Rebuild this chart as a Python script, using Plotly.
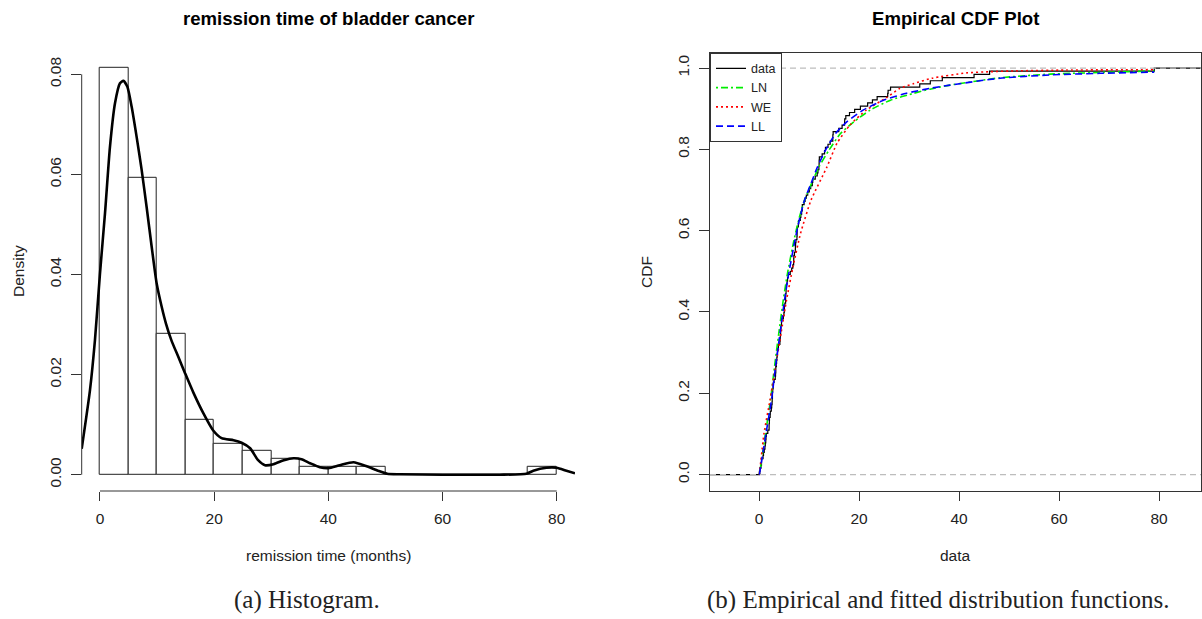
import plotly.graph_objects as go

W, H = 1202, 619

# ---------------- data: left panel (histogram + density) ----------------
bin_left = [0, 5, 10, 15, 20, 25, 30, 35, 40, 45, 50, 55, 60, 65, 70, 75]
bin_density = [0.08125, 0.059375, 0.028125, 0.0109375, 0.00625, 0.0046875,
               0.003125, 0.0015625, 0.0015625, 0.0015625, 0, 0, 0, 0, 0, 0.0015625]
bin_width = 5

dens_x = [-3.2, -1.75, -0.88, 0.0, 0.88, 1.75, 2.63, 3.5, 4.1, 4.8, 5.55, 6.42, 7.3,
          8.17, 9.05, 9.93, 10.8, 11.56, 12.5, 13.7, 14.9, 16.4, 18.1, 19.8, 21.3,
          23.4, 24.8, 26.3, 27.7, 28.9, 30.4, 32.2, 33.9, 35.3, 36.8, 38.5, 40.0,
          42.0, 44.4, 46.7, 48.7, 50.3, 52.5, 60.0, 70.0, 74.7, 75.9, 78.2, 80.0,
          81.7, 83.2]
dens_y = [0.0052, 0.0169, 0.0269, 0.0402, 0.0522, 0.0655, 0.0742, 0.0782, 0.0787,
          0.0775, 0.0735, 0.0675, 0.0609, 0.0535, 0.0456, 0.0382, 0.0336, 0.0302,
          0.0269, 0.0236, 0.0203, 0.0163, 0.0123, 0.0089, 0.0073, 0.0069, 0.0064,
          0.0053, 0.0029, 0.0019, 0.0021, 0.0029, 0.0033, 0.0031, 0.0023, 0.0015,
          0.0013, 0.0019, 0.0025, 0.0017, 0.0008, 0.0002, 0.0001, 0.0, 0.0, 0.0002,
          0.0008, 0.0014, 0.0014, 0.0008, 0.0003]

# ---------------- data: right panel (ECDF + fitted CDFs) ----------------
remission = [0.08, 2.09, 3.48, 4.87, 6.94, 8.66, 13.11, 23.63, 0.20, 2.23, 3.52, 4.98,
             6.97, 9.02, 13.29, 0.40, 2.26, 3.57, 5.06, 7.09, 9.22, 13.80, 25.74, 0.50,
             2.46, 3.64, 5.09, 7.26, 9.47, 14.24, 25.82, 0.51, 2.54, 3.70, 5.17, 7.28,
             9.74, 14.76, 26.31, 0.81, 2.62, 3.82, 5.32, 7.32, 10.06, 14.77, 32.15, 2.64,
             3.88, 5.32, 7.39, 10.34, 14.83, 34.26, 0.90, 2.69, 4.18, 5.34, 7.59, 10.66,
             15.96, 36.66, 1.05, 2.69, 4.23, 5.41, 7.62, 10.75, 16.62, 43.01, 1.19, 2.75,
             4.26, 5.41, 7.63, 17.12, 46.12, 1.26, 2.83, 4.33, 5.49, 7.66, 11.25, 17.14,
             79.05, 1.35, 2.87, 5.62, 7.87, 11.64, 17.36, 1.40, 3.02, 4.34, 5.71, 7.93,
             11.79, 18.10, 1.46, 4.40, 5.85, 8.26, 11.98, 19.13, 1.76, 3.25, 4.50, 6.25,
             8.37, 12.02, 2.02, 3.31, 4.51, 6.54, 8.53, 12.03, 20.28, 2.02, 3.36, 6.76,
             12.07, 21.73, 2.07, 3.36, 6.93, 8.65, 12.63, 22.69]

ln_x = [0.08, 1.3, 2.3, 3.1, 3.95, 4.85, 5.7, 7.0, 8.1, 9.1, 10.5, 12.0, 14.0, 16.3,
        19.0, 22.3, 26.3, 31.0, 34.2, 38.2, 48.2, 58.2, 68.2, 79.05]
ln_y = [0.0, 0.101, 0.183, 0.265, 0.347, 0.429, 0.495, 0.577, 0.634, 0.675, 0.716,
        0.757, 0.798, 0.839, 0.868, 0.897, 0.921, 0.938, 0.948, 0.958, 0.976, 0.985,
        0.989, 0.993]

we_x = [0.08, 1.0, 2.2, 3.3, 4.4, 5.5, 6.8, 8.3, 10.4, 13.6, 15.6, 18.2, 21.5, 25.5,
        28.2, 31.0, 34.6, 41.5, 46.2, 51.5, 61.5, 79.05]
we_y = [0.0, 0.101, 0.183, 0.265, 0.347, 0.429, 0.511, 0.593, 0.675, 0.757, 0.815,
        0.860, 0.897, 0.927, 0.950, 0.962, 0.975, 0.988, 0.991, 0.993, 0.995, 0.996]

ll_x = [0.08, 1.4, 2.5, 3.3, 4.2, 5.1, 5.95, 7.2, 8.2, 9.1, 10.4, 11.7, 13.3, 15.3,
        17.6, 20.9, 24.9, 29.5, 34.2, 38.2, 48.2, 58.2, 68.2, 79.05]
ll_y = [0.0, 0.101, 0.183, 0.265, 0.347, 0.429, 0.495, 0.577, 0.634, 0.675, 0.716,
        0.757, 0.798, 0.839, 0.868, 0.897, 0.921, 0.938, 0.950, 0.958, 0.975, 0.983,
        0.987, 0.990]

x1_ticks = [0, 20, 40, 60, 80]
y1_ticks = [0.00, 0.02, 0.04, 0.06, 0.08]
x2_ticks = [0, 20, 40, 60, 80]
y2_ticks = [0.0, 0.2, 0.4, 0.6, 0.8, 1.0]

X1_RANGE = [-3.2, 83.2]
Y1_RANGE = [-0.00325, 0.0845]
X2_RANGE = [-9.8, 88.4]
Y2_RANGE = [-0.0404, 1.0377]

# ---------------- styles ----------------
SANS = "Liberation Sans, Arial, sans-serif"
SERIF = "Liberation Serif, Times New Roman, serif"
AX = "#333333"
TXT = "#222222"

fig = go.Figure()

# histogram bars
fig.add_trace(go.Bar(
    x=[b + bin_width / 2 for b in bin_left], y=bin_density, width=bin_width,
    marker=dict(color="white", line=dict(color="#222222", width=1)),
    xaxis="x", yaxis="y", showlegend=False, hoverinfo="skip"))

# density curve
fig.add_trace(go.Scatter(
    x=dens_x, y=dens_y, mode="lines",
    line=dict(color="black", width=2.6, shape="spline", smoothing=0.6),
    xaxis="x", yaxis="y", showlegend=False, hoverinfo="skip", cliponaxis=True))

# ECDF step line (extends to the plot limits, as R's plot.ecdf does)
srt = sorted(remission)
n = len(srt)
ecdf_x = [X2_RANGE[0]] + srt + [X2_RANGE[1]]
ecdf_y = [0.0] + [(i + 1) / n for i in range(n)] + [1.0]
fig.add_trace(go.Scatter(
    x=ecdf_x, y=ecdf_y, mode="lines", name="data",
    line=dict(color="black", width=1.2, shape="hv"),
    xaxis="x2", yaxis="y2", hoverinfo="skip"))

fig.add_trace(go.Scatter(
    x=ln_x, y=ln_y, mode="lines", name="LN",
    line=dict(color="#00ee00", width=1.6, dash="2px,3px,7px,3px", shape="spline", smoothing=0.5),
    xaxis="x2", yaxis="y2", hoverinfo="skip"))
fig.add_trace(go.Scatter(
    x=we_x, y=we_y, mode="lines", name="WE",
    line=dict(color="#ff0000", width=1.6, dash="2px,3px", shape="spline", smoothing=0.5),
    xaxis="x2", yaxis="y2", hoverinfo="skip"))
fig.add_trace(go.Scatter(
    x=ll_x, y=ll_y, mode="lines", name="LL",
    line=dict(color="#0000ff", width=1.6, dash="7px,4px", shape="spline", smoothing=0.5),
    xaxis="x2", yaxis="y2", hoverinfo="skip"))

tickfont = dict(family=SANS, size=15.5, color=TXT)

fig.update_layout(
    width=W, height=H, margin=dict(l=0, r=0, t=0, b=0),
    paper_bgcolor="white", plot_bgcolor="white",
    bargap=0,
    xaxis=dict(domain=[81.7 / W, 575 / W], range=X1_RANGE, anchor="y",
               tickvals=x1_ticks, ticktext=[str(v) for v in x1_ticks],
               ticks="outside", ticklen=9, tickcolor=AX, tickwidth=1,
               showline=False, showgrid=False, zeroline=False, tickfont=tickfont,
               ticklabelstandoff=4),
    yaxis=dict(domain=[1 - 491 / H, 1 - 51.8 / H], range=Y1_RANGE, anchor="x",
               tickvals=y1_ticks, ticktext=["%.2f" % v for v in y1_ticks],
               ticks="outside", ticklen=10, tickcolor=AX, tickwidth=1, tickangle=-90,
               showline=False, showgrid=False, zeroline=False, tickfont=tickfont,
               ticklabelstandoff=4),
    xaxis2=dict(domain=[710 / W, 1201 / W], range=X2_RANGE, anchor="y2",
                tickvals=x2_ticks, ticktext=[str(v) for v in x2_ticks],
                ticks="outside", ticklen=9, tickcolor=AX, tickwidth=1,
                showline=True, linecolor=AX, linewidth=1, mirror=True,
                showgrid=False, zeroline=False, tickfont=tickfont, ticklabelstandoff=4),
    yaxis2=dict(domain=[1 - 491 / H, 1 - 52.7 / H], range=Y2_RANGE, anchor="x2",
                tickvals=y2_ticks, ticktext=["%.1f" % v for v in y2_ticks],
                ticks="outside", ticklen=10, tickcolor=AX, tickwidth=1, tickangle=-90,
                showline=True, linecolor=AX, linewidth=1, mirror=True,
                showgrid=False, zeroline=False, tickfont=tickfont, ticklabelstandoff=4),
    legend=dict(x=710 / W, y=1 - 52.7 / H, xanchor="left", yanchor="top",
                bgcolor="white", bordercolor=AX, borderwidth=1,
                font=dict(family=SANS, size=12.5, color=TXT),
                itemwidth=30, tracegroupgap=0),
    showlegend=True,
)

# R-style axis lines (span first to last tick only) on the left panel
fig.add_shape(type="line", xref="x", yref="y domain", x0=x1_ticks[0], x1=x1_ticks[-1],
              y0=0, y1=0, line=dict(color=AX, width=1))
fig.add_shape(type="line", xref="x domain", yref="y", x0=0, x1=0,
              y0=y1_ticks[0], y1=y1_ticks[-1], line=dict(color=AX, width=1))

# grey dashed reference lines at CDF = 0 and 1
for yv in (0.0, 1.0):
    fig.add_shape(type="line", xref="x2 domain", yref="y2", x0=0, x1=1, y0=yv, y1=yv,
                  line=dict(color="#bdbdbd", width=1.2, dash="6px,4px"))

def ann(text, x, y, size=15.5, bold=False, angle=0, family=SANS):
    fig.add_annotation(text=text, x=x / W, y=1 - y / H, xref="paper", yref="paper",
                       xanchor="center", yanchor="middle", showarrow=False,
                       textangle=angle,
                       font=dict(family=family, size=size, color="black" if bold else TXT,
                                 weight="bold" if bold else "normal"))

ann("remission time of bladder cancer", 328, 18, size=18.6, bold=True)
ann("Empirical CDF Plot", 955.5, 18, size=18.6, bold=True)
ann("Density", 18, 271, angle=-90)
ann("remission time (months)", 328, 555)
ann("CDF", 646, 272, angle=-90)
ann("data", 955.5, 555)
ann("(a) Histogram.", 307, 600, size=25, family=SERIF)
ann("(b) Empirical and fitted distribution functions.", 938, 600, size=25, family=SERIF)

fig.write_html("out.html")
